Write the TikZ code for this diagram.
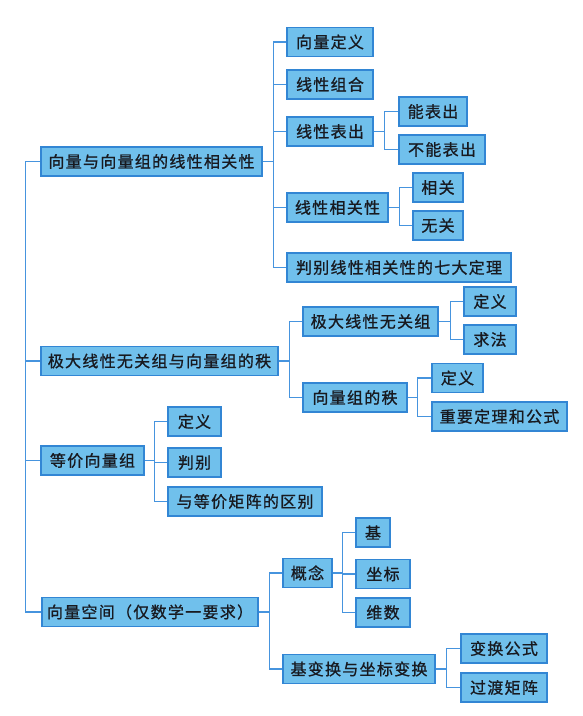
\documentclass[tikz,border=0pt]{standalone}
\usepackage{fontspec}
\newfontfamily\cjk[LetterSpace=8,FakeBold=0.9]{Noto Sans CJK SC}
\definecolor{boxfill}{RGB}{112,192,236}
\definecolor{boxedge}{RGB}{50,134,212}
\definecolor{wire}{RGB}{70,148,222}
\definecolor{ink}{RGB}{24,26,32}
\begin{document}
\begin{tikzpicture}[x=1pt,y=-1pt,
  topic/.style={draw=boxedge,fill=boxfill,line width=1.1pt,minimum height=29pt,
    inner sep=0pt,text=ink,font=\cjk\fontsize{16}{16}\selectfont},
  wireline/.style={draw=wire,line width=1.1pt}]
\useasboundingbox[fill=white] (0,0) rectangle (582,716);

% first branch: linear dependence
\node[topic,minimum width=221pt] (r1) at (151.5,161.5) {向量与向量组的线性相关性};
\node[topic,minimum width=86pt] (a1) at (330,42) {向量定义};
\node[topic,minimum width=86pt] (a2) at (330,84.5) {线性组合};
\node[topic,minimum width=86pt] (a3) at (330,131.5) {线性表出};
\node[topic,minimum width=68pt] (a31) at (433,111.5) {能表出};
\node[topic,minimum width=86pt] (a32) at (442,149.5) {不能表出};
\node[topic,minimum width=101pt] (a4) at (337.5,207.5) {线性相关性};
\node[topic,minimum width=50pt] (a41) at (438,187.5) {相关};
\node[topic,minimum width=50pt] (a42) at (438,225.5) {无关};
\node[topic,minimum width=224pt] (a5) at (399,267.5) {判别线性相关性的七大定理};

% second branch: maximal independent subsets and rank
\node[topic,minimum width=237pt] (r2) at (159.5,361) {极大线性无关组与向量组的秩};
\node[topic,minimum width=135pt] (b1) at (370.5,321.5) {极大线性无关组};
\node[topic,minimum width=52pt] (b11) at (490,301.5) {定义};
\node[topic,minimum width=52pt] (b12) at (490,339.5) {求法};
\node[topic,minimum width=104pt] (b2) at (355,397.5) {向量组的秩};
\node[topic,minimum width=51pt] (b21) at (457.5,378) {定义};
\node[topic,minimum width=135pt] (b22) at (499.5,416.5) {重要定理和公式};

% third branch: equivalent vector sets
\node[topic,minimum width=103pt] (r3) at (92.5,460.5) {等价向量组};
\node[topic,minimum width=53pt] (c1) at (194.5,421.5) {定义};
\node[topic,minimum width=53pt] (c2) at (194.5,462.5) {判别};
\node[topic,minimum width=154pt] (c3) at (245,501.5) {与等价矩阵的区别};

% fourth branch: vector spaces
\node[topic,minimum width=216pt] (r4) at (150,612) {向量空间（仅数学一要求）};
\node[topic,minimum width=49pt] (d1) at (307.5,573) {概念};
\node[topic,minimum width=34pt] (d11) at (373,532.5) {基};
\node[topic,minimum width=54pt] (d12) at (383,574) {坐标};
\node[topic,minimum width=54pt] (d13) at (383,612.5) {维数};
\node[topic,minimum width=152pt] (d2) at (359,669) {基变换与坐标变换};
\node[topic,minimum width=86pt] (d21) at (504,648.5) {变换公式};
\node[topic,minimum width=86pt] (d22) at (504,687.5) {过渡矩阵};

% trunk joining the four branches
\foreach \t in {r1,r2,r3,r4} \draw[wireline] (r1.west) -- ++(-15,0) |- (\t.west);

% bracket connectors
\foreach \t in {a1,a2,a3,a4,a5} \draw[wireline] (r1.east) -- ++(11,0) |- (\t.west);
\foreach \t in {a31,a32} \draw[wireline] (a3.east) -- ++(11,0) |- (\t.west);
\foreach \t in {a41,a42} \draw[wireline] (a4.east) -- ++(11,0) |- (\t.west);
\foreach \t in {b1,b2} \draw[wireline] (r2.east) -- ++(11,0) |- (\t.west);
\foreach \t in {b11,b12} \draw[wireline] (b1.east) -- ++(12,0) |- (\t.west);
\foreach \t in {b21,b22} \draw[wireline] (b2.east) -- ++(10,0) |- (\t.west);
\foreach \t in {c1,c2,c3} \draw[wireline] (r3.east) -- ++(10,0) |- (\t.west);
\foreach \t in {d1,d2} \draw[wireline] (r4.east) -- ++(11,0) |- (\t.west);
\foreach \t in {d11,d12,d13} \draw[wireline] (d1.east) -- ++(10,0) |- (\t.west);
\foreach \t in {d21,d22} \draw[wireline] (d2.east) -- ++(11,0) |- (\t.west);
\end{tikzpicture}
\end{document}
